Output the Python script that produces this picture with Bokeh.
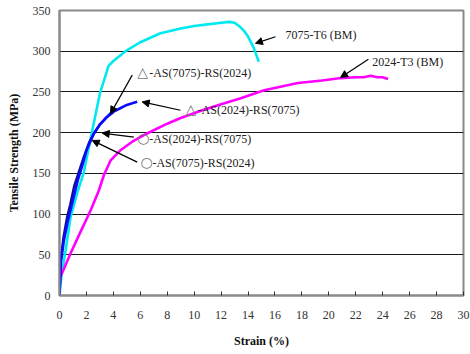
from bokeh.plotting import figure
from bokeh.models import Range1d, FixedTicker, Label, Arrow, NormalHead
from bokeh.embed import file_html
from bokeh.resources import INLINE

# ---- data ----
x_ticks = list(range(0, 31, 2))
y_ticks = list(range(0, 351, 50))

strain_7075 = [0, 0.15, 0.45, 0.82, 1.3, 1.8, 2.4, 3.0, 3.64, 4.0, 4.9, 6.0, 7.5, 9.0, 10.0,
               11.0, 12.0, 12.6, 13.0, 13.4, 13.7, 14.0, 14.4, 14.8]
stress_7075 = [0, 25, 55, 96, 125, 151, 200, 248, 282, 288, 300, 311, 322, 328, 331,
               333, 335, 336, 335, 330, 325, 318, 305, 287]

strain_2024 = [0.05, 0.8, 1.5, 2.3, 2.9, 3.3, 3.8, 4.5, 5.5, 6.5, 8.0, 9.0, 10.5, 12.0, 13.4,
               15.2, 17.7, 19.5, 20.9, 22.0, 22.6, 23.1, 23.6, 24.0, 24.4]
stress_2024 = [22, 51, 76, 104, 128, 148, 166, 178, 190, 199, 211, 218, 227, 235, 242,
               252, 261, 264, 267, 268, 268, 270, 268, 268, 266]

strain_as2024 = [0, 0.1, 0.32, 0.6, 0.82, 1.35, 1.7, 2.0, 2.55, 3.0, 3.8, 4.4, 5.0, 5.4, 5.77]
stress_as2024 = [0, 40, 67, 90, 105, 141, 160, 178, 199, 210, 224, 229, 234, 236, 238]

strain_as7075 = [0, 0.1, 0.3, 0.55, 0.8, 1.1, 1.4, 1.8, 2.2, 2.6, 3.0, 3.5, 4.0]
stress_as7075 = [0, 45, 72, 95, 112, 135, 150, 170, 188, 200, 210, 219, 225]

label_symbols = ["", "", "\u25b3", "\u25b3", "\u25cb", "\u25cb"]
labels = ["7075-T6 (BM)", "2024-T3 (BM)", "-AS(7075)-RS(2024)",
          "-AS(2024)-RS(7075)", "-AS(2024)-RS(7075)", "-AS(7075)-RS(2024)"]
label_x = [16.78, 23.22, 5.77, 9.36, 5.77, 6.01]
label_y = [320, 287, 273.5, 227.5, 192.6, 162.6]
arrow_x0 = [16.04, 22.94, 5.40, 8.98, 5.52, 5.77]
arrow_y0 = [317.8, 290, 270.6, 227.5, 194.6, 163.8]
arrow_x1 = [14.55, 20.87, 3.79, 6.14, 3.17, 2.43]
arrow_y1 = [309.7, 267.8, 223.4, 237.7, 199.5, 190.5]

FONT = "Liberation Serif"

p = figure(width=470, height=354, x_range=Range1d(0, 30), y_range=Range1d(0, 350),
           output_backend="svg", toolbar_location=None,
           min_border_left=59, min_border_right=7, min_border_top=10, min_border_bottom=59)
p.background_fill_color = "white"
p.border_fill_color = "white"
p.outline_line_color = "#8a8a8a"
p.outline_line_width = 2

p.xgrid.grid_line_color = None
p.ygrid.grid_line_color = "#1a1a1a"
p.ygrid.grid_line_width = 1

p.xaxis.ticker = FixedTicker(ticks=x_ticks)
p.yaxis.ticker = FixedTicker(ticks=y_ticks)
for ax in (p.xaxis[0], p.yaxis[0]):
    ax.axis_line_color = "#8a8a8a"
    ax.axis_line_width = 2
    ax.major_label_text_font = FONT
    ax.major_label_text_font_size = "12px"
    ax.major_label_text_color = "#333333"
    ax.axis_label_text_font = FONT
    ax.axis_label_text_font_size = "12px"
    ax.axis_label_text_font_style = "bold"
    ax.axis_label_text_color = "#111111"
    ax.minor_tick_line_color = None

p.xaxis.major_tick_in = 4
p.xaxis.major_tick_out = 0
p.xaxis.major_tick_line_color = "#333333"
p.xaxis.major_label_standoff = 15
p.xaxis.axis_label = "Strain (%)"
p.xaxis.axis_label_standoff = 12

p.yaxis.major_tick_line_color = None
p.yaxis.major_tick_in = 0
p.yaxis.major_tick_out = 0
p.yaxis.major_label_standoff = 9
p.yaxis.axis_label = "Tensile Strength (MPa)"
p.yaxis.axis_label_standoff = 9

p.line(strain_7075, stress_7075, line_color="#00e8f0", line_width=2.6)
p.line(strain_2024, stress_2024, line_color="#ff00ff", line_width=2.6)
p.line(strain_as7075, stress_as7075, line_color="#101090", line_width=2.4)
p.line(strain_as2024, stress_as2024, line_color="#0a0aff", line_width=2.6)

for s, t, lx, ly in zip(label_symbols, labels, label_x, label_y):
    off = 0
    if s:
        p.add_layout(Label(x=lx, y=ly, y_offset=1, text=s, text_font="DejaVu Sans",
                           text_font_size="14px", text_color="#777777",
                           text_baseline="middle", text_align="left"))
        off = 12
    p.add_layout(Label(x=lx, y=ly, x_offset=off, text=t, text_font=FONT, text_font_size="12px",
                       text_color="#222222", text_baseline="middle", text_align="left"))

for x0, y0, x1, y1 in zip(arrow_x0, arrow_y0, arrow_x1, arrow_y1):
    p.add_layout(Arrow(x_start=x0, y_start=y0, x_end=x1, y_end=y1,
                       line_color="black", line_width=1.2,
                       end=NormalHead(size=7, fill_color="black", line_color="black")))

open("out.html", "w").write(file_html(p, INLINE))
